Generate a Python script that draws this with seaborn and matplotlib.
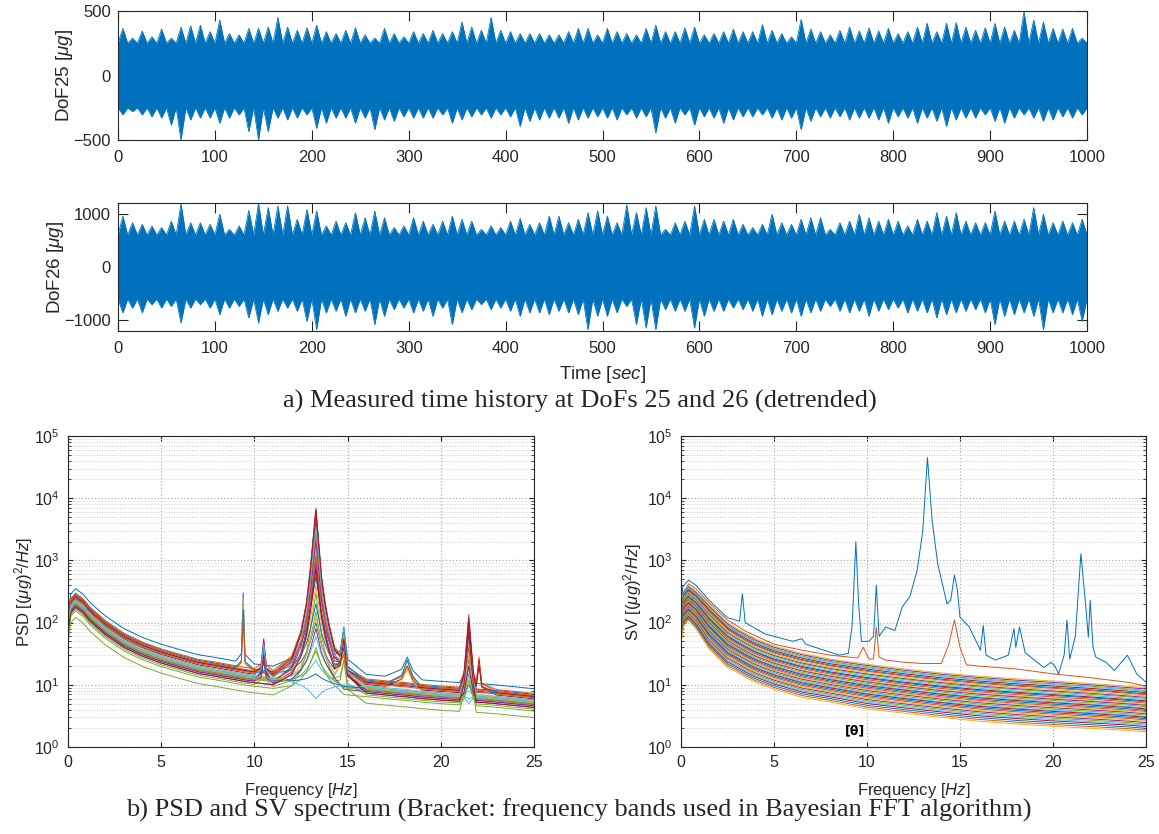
import numpy as np
import pandas as pd
import matplotlib
matplotlib.use("Agg")
import matplotlib.pyplot as plt
import seaborn as sns
from matplotlib.ticker import FixedLocator, LogLocator, NullFormatter

nan = np.nan

# ---------------- data: time histories (peak per 10-s window) ----------------
window_sec = 10
dof25_upper = [365, 290, 345, 300, 360, 290, 375, 385, 390, 340,
               430, 325, 315, 365, 365, 375, 450, 375, 350, 370,
               390, 340, 325, 350, 370, 315, 290, 365, 325, 300,
               340, 325, 350, 325, 340, 415, 375, 350, 450, 350,
               340, 325, 325, 325, 315, 315, 340, 365, 365, 315,
               365, 340, 325, 315, 365, 390, 340, 340, 370, 375,
               315, 325, 340, 360, 340, 340, 395, 350, 325, 300,
               435, 360, 340, 315, 350, 375, 345, 370, 345, 365,
               325, 340, 375, 405, 340, 405, 410, 375, 350, 370,
               405, 375, 350, 495, 430, 415, 365, 360, 365, 290]
dof25_lower = [-305, -280, -305, -320, -330, -385, -500, -345, -330, -330,
               -370, -330, -305, -435, -500, -435, -330, -345, -330, -305,
               -410, -370, -330, -330, -370, -330, -420, -345, -355, -320,
               -330, -330, -330, -305, -370, -345, -320, -305, -330, -305,
               -320, -395, -355, -345, -330, -330, -370, -345, -330, -320,
               -330, -345, -305, -330, -320, -445, -330, -370, -305, -385,
               -320, -330, -370, -345, -320, -320, -305, -330, -345, -330,
               -420, -355, -320, -330, -320, -345, -330, -330, -345, -370,
               -320, -330, -370, -330, -355, -395, -345, -330, -330, -305,
               -355, -370, -330, -305, -330, -355, -345, -320, -330, -305]
dof25_core = 250

dof26_upper = [955, 830, 800, 770, 740, 860, 1190, 830, 830, 800,
               990, 705, 770, 1065, 1190, 1115, 1145, 1145, 895, 1080,
               1050, 770, 860, 830, 1020, 925, 1050, 925, 740, 770,
               925, 860, 800, 860, 955, 895, 860, 705, 770, 740,
               860, 910, 800, 830, 955, 955, 830, 895, 1020, 1050,
               955, 830, 1165, 1020, 1115, 1145, 705, 830, 860, 1145,
               895, 895, 860, 895, 800, 740, 800, 990, 830, 800,
               895, 925, 925, 705, 830, 860, 990, 925, 860, 895,
               860, 770, 895, 860, 1020, 955, 1020, 860, 830, 830,
               1050, 860, 860, 895, 1115, 990, 830, 860, 830, 895]
dof26_lower = [-860, -770, -860, -705, -770, -740, -1050, -770, -705, -770,
               -895, -770, -740, -955, -1050, -895, -830, -770, -830, -1020,
               -1175, -860, -830, -925, -860, -830, -1080, -925, -800, -770,
               -860, -830, -925, -770, -1080, -860, -800, -705, -800, -770,
               -830, -925, -860, -860, -895, -830, -860, -895, -1175, -925,
               -925, -860, -740, -1080, -1145, -1175, -800, -830, -830, -1145,
               -925, -830, -830, -770, -800, -830, -925, -895, -830, -860,
               -925, -860, -830, -740, -830, -860, -830, -925, -830, -800,
               -770, -860, -830, -860, -955, -895, -860, -830, -800, -860,
               -1080, -925, -895, -860, -925, -1175, -860, -860, -895, -1020]
dof26_core = 600

# ---------------- data: PSD ----------------
psd_freq = [0.0, 0.15, 0.4, 0.8, 1.2, 2.0, 3.0, 4.0, 5.0, 6.0, 7.0, 8.0, 9.0, 9.3, 9.4, 9.5,
            10.0, 10.35, 10.5, 10.65, 11.0, 12.0, 12.5, 12.8, 13.0, 13.3, 13.6, 13.8, 14.0,
            14.3, 14.6, 14.8, 15.0, 16.0, 17.0, 17.9, 18.2, 18.5, 19.0, 20.0, 21.0, 21.25,
            21.5, 21.75, 21.9, 22.05, 22.2, 23.0, 24.0, 25.0]
psd_base = [90, 180, 220, 180, 130, 80, 50, 36, 28, 23, 19, 17, 15, 14.5, 14.3, 14.1,
            13.5, 13.2, 13.0, 12.9, 12.5, 11.8, 11.5, 11.3, 11.2, 11.0, 10.8, 10.7, 10.5,
            10.3, 10.1, 10.0, 9.8, 9.2, 8.6, 8.1, 8.0, 7.8, 7.5, 7.1, 6.8, 6.7,
            6.7, 6.6, 6.6, 6.5, 6.5, 6.2, 5.8, 5.4]
psd_level = [1.6, 1.25, 1.15, 0.85, 0.55, 1.0, 1.1, 1.3, 1.35, 1.05, 0.8, 0.75, 0.95, 0.9,
             1.2, 1.15, 1.0, 0.9, 0.7, 1.0, 1.2, 0.95, 1.25, 0.95, 0.85, 0.9, 1.05, 0.8]
psd_peak_094 = [300, nan, 250, nan, nan, nan, nan, 160, nan, nan, nan, nan, nan, nan,
                nan, nan, nan, nan, nan, nan, nan, nan, 120, nan, nan, nan, nan, nan]
psd_peak_105 = [nan, 35, nan, 25, nan, nan, 55, nan, 45, nan, nan, 28, nan, 40,
                nan, 35, nan, 50, nan, nan, 30, nan, nan, nan, 25, nan, 45, nan]
psd_peak_133 = [550, 7000, 1500, 1000, 300, 60, 6500, 200, 5500, 3000, 800, 150, 25, 4000,
                100, 2500, 400, 2000, 40, 6, 6000, 15, 1200, 120, 80, 35, 3500, 700]
psd_peak_148 = [85, 40, 30, 60, 25, 80, 50, 35, 45, 30, 60, 25, nan, 40,
                70, 30, 35, 50, nan, nan, 40, nan, 30, 65, nan, nan, 45, 55]
psd_peak_182 = [28, nan, 24, nan, nan, nan, 20, nan, nan, 18, nan, nan, nan, nan,
                25, nan, nan, nan, nan, nan, nan, nan, 20, nan, nan, nan, nan, nan]
psd_peak_215 = [40, 135, 100, 60, 60, 6, 110, 30, 80, 50, 20, 15, 8, 70,
                25, 90, 45, 120, 12, 5, 100, 10, 40, 30, 20, 10, 60, 70]
psd_peak_220 = [nan, 28, nan, nan, nan, nan, 25, nan, 22, nan, nan, nan, nan, nan,
                nan, nan, nan, nan, nan, nan, 20, nan, nan, nan, nan, nan, nan, nan]
# relative (log) share of each modal peak at neighbouring frequency points
mode_shapes = {
    9.4: (psd_peak_094, {9.3: 0.12, 9.4: 1.0, 9.5: 0.12}),
    10.5: (psd_peak_105, {10.35: 0.2, 10.5: 1.0, 10.65: 0.2}),
    13.3: (psd_peak_133, {12.0: 0.1, 12.5: 0.26, 12.8: 0.44, 13.0: 0.64, 13.3: 1.0,
                          13.6: 0.6, 13.8: 0.44, 14.0: 0.32, 14.3: 0.18, 14.6: 0.08}),
    14.8: (psd_peak_148, {14.6: 0.3, 14.8: 1.0, 15.0: 0.3}),
    18.2: (psd_peak_182, {17.9: 0.4, 18.2: 1.0, 18.5: 0.4}),
    21.5: (psd_peak_215, {21.25: 0.25, 21.5: 1.0, 21.75: 0.25}),
    22.05: (psd_peak_220, {21.9: 0.2, 22.05: 1.0, 22.2: 0.2}),
}

# ---------------- data: SV spectrum ----------------
sv1_freq = [0.0, 0.1, 0.4, 0.8, 1.5, 2.5, 3.15, 3.3, 3.45, 4.5, 6.0, 6.5, 6.7, 8.5, 9.0, 9.2,
            9.4, 9.55, 9.7, 10.1, 10.35, 10.5, 10.65, 11.0, 11.5, 11.9, 12.3, 12.7, 13.0,
            13.25, 13.5, 13.8, 14.3, 14.5, 14.7, 14.85, 15.0, 15.5, 16.1, 16.25, 16.4, 16.9,
            17.6, 17.9, 18.0, 18.2, 18.5, 19.0, 19.5, 19.9, 20.1, 20.3, 20.6, 20.75, 20.9,
            21.2, 21.5, 21.75, 21.9, 22.0, 22.15, 22.3, 22.85, 23.3, 24.0, 24.5, 25.0]
sv1_vals = [200, 380, 480, 400, 230, 120, 105, 290, 100, 66, 50, 55, 45, 30, 32, 90,
            2000, 200, 50, 50, 60, 400, 60, 85, 75, 180, 260, 700, 3000,
            45000, 4400, 890, 200, 230, 580, 350, 122, 85, 36, 90, 30, 25,
            30, 80, 40, 85, 33, 25, 19, 23, 20, 15, 30, 110, 26,
            60, 1280, 200, 58, 230, 40, 28, 23, 17, 30, 15, 11]
sv2_freq = [0.0, 0.15, 0.4, 0.8, 1.5, 2.5, 3.5, 5.0, 6.5, 8.0, 9.5, 9.8, 10.1, 10.35, 10.5,
            10.65, 11.0, 12.0, 13.0, 14.0, 14.4, 14.7, 15.0, 15.35, 16.0, 18.0, 20.0, 22.0,
            24.0, 25.0]
sv2_vals = [120, 300, 420, 350, 210, 110, 72, 45, 36, 30, 27, 40, 26, 26, 85,
            28, 25, 23, 22, 22, 45, 110, 40, 21, 20, 18, 15, 13, 11, 9.5]
sv_bundle_freq = [0.0, 0.15, 0.4, 0.8, 1.5, 2.5, 3.0, 3.5, 4.0, 5.0, 6.5, 8.0, 10.0, 12.0,
                  14.0, 16.0, 18.0, 20.0, 22.0, 24.0, 25.0]
sv_bundle_top = [150, 320, 390, 320, 195, 100, 80, 66, 55, 42, 32, 26, 21.5, 18,
                 15.5, 13.8, 12.5, 11.5, 10.5, 9.5, 9.0]
sv_bundle_bottom = [50, 90, 108, 80, 38, 19, 16, 13, 11, 8.5, 6.3, 5.3, 4.1, 3.5,
                    3.0, 2.6, 2.35, 2.15, 2.0, 1.85, 1.75]
sv_bundle_pos = [1.00, 0.97, 0.94, 0.92, 0.89, 0.86, 0.84, 0.81, 0.78, 0.76, 0.73, 0.70,
                 0.68, 0.65, 0.62, 0.60, 0.57, 0.54, 0.52, 0.49, 0.46, 0.44, 0.41, 0.38,
                 0.35, 0.33, 0.30, 0.27, 0.24, 0.21, 0.18, 0.15, 0.12, 0.08, 0.04, 0.00]

time_ticks = [0, 100, 200, 300, 400, 500, 600, 700, 800, 900, 1000]
freq_ticks = [0, 5, 10, 15, 20, 25]
caption_a = "a) Measured time history at DoFs 25 and 26 (detrended)"
caption_b = "b) PSD and SV spectrum (Bracket: frequency bands used in Bayesian FFT algorithm)"

# ---------------- style ----------------
sns.set_style("ticks")
plt.rcParams["font.family"] = ["Liberation Sans", "DejaVu Sans"]
plt.rcParams.update({
    "mathtext.fontset": "custom",
    "mathtext.rm": "Liberation Sans",
    "mathtext.it": "Liberation Sans:italic",
    "mathtext.bf": "Liberation Sans:bold",
    "axes.edgecolor": "#262626",
    "axes.linewidth": 0.8,
    "xtick.color": "#262626",
    "ytick.color": "#262626",
    "xtick.labelcolor": "#262626",
    "ytick.labelcolor": "#262626",
    "axes.labelcolor": "#262626",
    "xtick.direction": "in",
    "ytick.direction": "in",
    "xtick.top": True,
    "ytick.right": True,
})
MATLAB = ["#0072BD", "#D95319", "#EDB120", "#7E2F8E", "#77AC30", "#4DBEEE", "#A2142F"]
BLUE = MATLAB[0]
W, H = 1159, 834
fig = plt.figure(figsize=(W / 100, H / 100), dpi=100)


def fig_axes(l, t, r, b):
    return fig.add_axes([l / W, 1 - b / H, (r - l) / W, (b - t) / H])


def draw_time(ax, upper, lower, core, ylim, yticks, ylabel):
    n = len(upper)
    t_edge = np.arange(n + 1) * window_sec
    t_mid = np.arange(n) * window_sec + window_sec / 2
    t = np.empty(2 * n + 1)
    t[0::2] = t_edge
    t[1::2] = t_mid
    up = np.empty(2 * n + 1)
    up[0::2] = core
    up[1::2] = upper
    lo = np.empty(2 * n + 1)
    lo[0::2] = -core
    lo[1::2] = lower
    ax.fill_between(t, lo, up, color=BLUE, lw=0)
    sns.lineplot(x=t, y=up, ax=ax, color=BLUE, lw=0.6, sort=False, estimator=None)
    sns.lineplot(x=t, y=lo, ax=ax, color=BLUE, lw=0.6, sort=False, estimator=None)
    ax.set_xlim(0, 1000)
    ax.set_ylim(*ylim)
    ax.xaxis.set_major_locator(FixedLocator(time_ticks))
    ax.yaxis.set_major_locator(FixedLocator(yticks))
    ax.tick_params(length=7, width=0.8, labelsize=12, pad=7)
    ax.tick_params(axis="y", pad=5)
    ax.set_ylabel(ylabel, fontsize=13.5, labelpad=-1)


ax1 = fig_axes(118, 11, 1087, 140)
draw_time(ax1, dof25_upper, dof25_lower, dof25_core, (-500, 500), [-500, 0, 500],
          r"DoF25 [$\mu g$]")
ax2 = fig_axes(118, 203, 1087, 331)
draw_time(ax2, dof26_upper, dof26_lower, dof26_core, (-1200, 1200), [-1000, 0, 1000],
          r"DoF26 [$\mu g$]")
ax2.set_xlabel(r"Time [$sec$]", fontsize=13.5, labelpad=6)

# ---------------- spectra ----------------
pf = np.array(psd_freq)
pb = np.array(psd_base)
rows = []
for k, lev in enumerate(psd_level):
    logv = np.log(pb * lev)
    for fm, (peaks, shape) in mode_shapes.items():
        p = peaks[k]
        if np.isnan(p):
            continue
        j0 = psd_freq.index(fm)
        gain = np.log(p) - np.log(pb[j0] * lev)
        for fs, frac in shape.items():
            logv[psd_freq.index(fs)] += frac * gain
    for f, v in zip(pf, np.exp(logv)):
        rows.append((f, v, f"DoF{k + 1}"))
psd_df = pd.DataFrame(rows, columns=["freq", "value", "curve"])

sv_rows = [(f, v, "SV1") for f, v in zip(sv1_freq, sv1_vals)]
sv_rows += [(f, v, "SV2") for f, v in zip(sv2_freq, sv2_vals)]
lt, lb = np.log(sv_bundle_top), np.log(sv_bundle_bottom)
for k, pos in enumerate(sv_bundle_pos):
    vals = np.exp(lb + pos * (lt - lb))
    sv_rows += [(f, v, f"SV{k + 3}") for f, v in zip(sv_bundle_freq, vals)]
sv_df = pd.DataFrame(sv_rows, columns=["freq", "value", "curve"])


def draw_spec(ax, df, ylabel, ypad):
    names = list(dict.fromkeys(df["curve"]))
    pal = [MATLAB[i % 7] for i in range(len(names))]
    sns.lineplot(data=df, x="freq", y="value", hue="curve", hue_order=names,
                 palette=pal, ax=ax, lw=0.7, legend=False, sort=False,
                 estimator=None)
    ax.set_yscale("log")
    ax.set_xlim(0, 25)
    ax.set_ylim(1, 1e5)
    ax.xaxis.set_major_locator(FixedLocator(freq_ticks))
    ax.yaxis.set_major_locator(LogLocator(base=10, numticks=10))
    ax.yaxis.set_minor_locator(LogLocator(base=10, subs=np.arange(2, 10), numticks=20))
    ax.yaxis.set_minor_formatter(NullFormatter())
    ax.grid(True, which="major", color="#b0b0b0", ls=":", lw=0.9)
    ax.grid(True, which="minor", axis="y", color="#d0d0d0", ls=":", lw=0.7)
    ax.tick_params(which="major", length=3.5, width=0.8, labelsize=11.5, pad=6)
    ax.tick_params(which="minor", length=2, width=0.6)
    ax.set_xlabel(r"Frequency [$Hz$]", fontsize=12, labelpad=8)
    ax.set_ylabel(ylabel, fontsize=12, labelpad=ypad)


ax3 = fig_axes(68, 436, 534, 747)
draw_spec(ax3, psd_df, r"PSD [($\mu g$)$^2$/$Hz$]", -1)
ax4 = fig_axes(681, 436, 1146, 747)
draw_spec(ax4, sv_df, r"SV [($\mu g$)$^2$/$Hz$]", 2)

fig.text(855 / W, 1 - 731 / H, "[θ]", ha="center", va="center", fontsize=9,
         fontweight="bold", family=["DejaVu Sans"], color="black")

fig.text(0.5, 1 - 401 / H, caption_a, ha="center", va="center",
         family=["Liberation Serif"], fontsize=19)
fig.text(0.499, 1 - 810 / H, caption_b, ha="center", va="center",
         family=["Liberation Serif"], fontsize=19)

fig.savefig("out.png", dpi=100)
